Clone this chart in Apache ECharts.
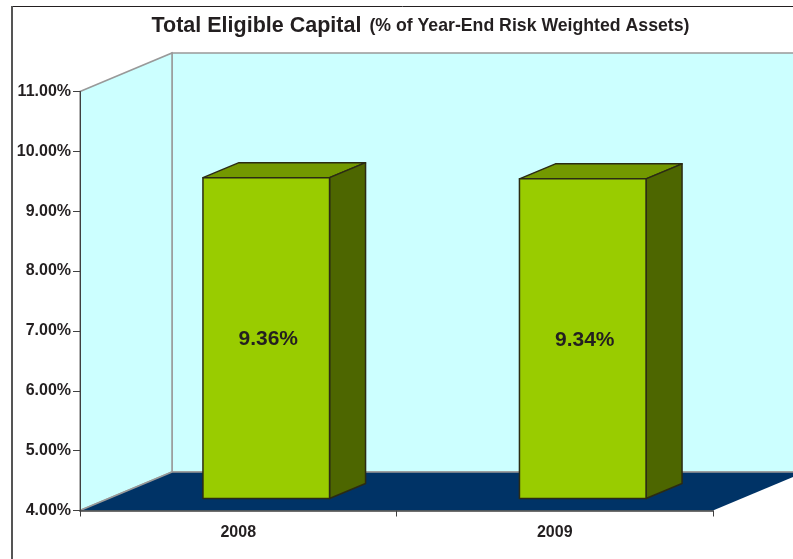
<!DOCTYPE html>
<html>
<head>
<meta charset="utf-8">
<style>
html,body{margin:0;padding:0;background:#fff}
#chart{width:793px;height:559px}
</style>
<script src="https://cdn.jsdelivr.net/npm/echarts@6/dist/echarts.min.js"></script>
</head>
<body>
<div id="chart"></div>
<script>
var years = ['2008', '2009']
var capital = [9.36, 9.34]
var axisMin = 4
var axisMax = 11
var axisStep = 1

var ink = '#231f20'
var font = '"Liberation Sans", Arial, sans-serif'
// 3d look: how far the walls and the bars are pushed back, in pixels
var wallDx = 92, wallDy = -38.5
var barShiftX = 28, barShiftY = -12
var barDx = 36, barDy = -15

function renderWalls(params) {
    var g = params.coordSys
    var l = g.x, r = g.x + g.width, t = g.y, b = g.y + g.height
    var edge = {stroke: '#999999', lineWidth: 1.5}
    return {
        type: 'group',
        children: [
            {type: 'polygon', shape: {points: [[l + wallDx, t + wallDy], [r + wallDx, t + wallDy], [r + wallDx, b + wallDy], [l + wallDx, b + wallDy]]}, style: {fill: '#ccffff', stroke: '#999999', lineWidth: 1.5}},
            {type: 'polygon', shape: {points: [[l, t], [l + wallDx, t + wallDy], [l + wallDx, b + wallDy], [l, b]]}, style: {fill: '#ccffff', stroke: '#999999', lineWidth: 1.5}},
            {type: 'polygon', shape: {points: [[l, b], [l + wallDx, b + wallDy], [r + wallDx, b + wallDy], [r, b]]}, style: {fill: '#003366'}},
            {type: 'line', shape: {x1: l, y1: b, x2: l + wallDx, y2: b + wallDy}, style: edge},
            {type: 'line', shape: {x1: l + wallDx, y1: b + wallDy, x2: r + wallDx, y2: b + wallDy}, style: edge}
        ]
    }
}

function renderBar(params, api) {
    var base = api.coord([api.value(0), axisMin])
    var top = api.coord([api.value(0), api.value(1)])
    var w = api.size([1, 0])[0] * 0.4
    var x0 = base[0] - w / 2 + barShiftX
    var x1 = x0 + w
    var y0 = base[1] + barShiftY
    var y1 = top[1] + barShiftY
    var line = {stroke: '#2b2b14', lineWidth: 1.5, lineJoin: 'round'}
    return {
        type: 'group',
        children: [
            {type: 'polygon', shape: {points: [[x0, y1], [x0 + barDx, y1 + barDy], [x1 + barDx, y1 + barDy], [x1, y1]]}, style: Object.assign({fill: '#739900'}, line)},
            {type: 'polygon', shape: {points: [[x1, y1], [x1 + barDx, y1 + barDy], [x1 + barDx, y0 + barDy], [x1, y0]]}, style: Object.assign({fill: '#4d6600'}, line)},
            {type: 'rect', shape: {x: x0, y: y1, width: w, height: y0 - y1}, style: Object.assign({fill: '#99cc00'}, line)},
            {type: 'text', style: {text: api.value(1).toFixed(2) + '%', x: (x0 + x1) / 2 + 2, y: (y0 + y1) / 2 + 1.5, align: 'center', verticalAlign: 'middle', fill: ink, font: 'bold 21px ' + font}}
        ]
    }
}

var myChart = echarts.init(document.getElementById('chart'), null, {renderer: 'canvas'})
myChart.setOption({
    animation: false,
    backgroundColor: '#ffffff',
    title: {
        text: '{a|Total Eligible Capital} {b|(% of Year-End Risk Weighted Assets)}',
        left: 415.5,
        top: 10,
        textAlign: 'center',
        textStyle: {
            rich: {
                a: {fontFamily: font, fontWeight: 'bold', fontSize: 21.5, color: ink, padding: [0, 3, 0, 0]},
                b: {fontFamily: font, fontWeight: 'bold', fontSize: 17.7, color: ink}
            }
        }
    },
    grid: {left: 80, top: 91.5, width: 633, height: 419},
    xAxis: {
        type: 'category',
        data: years,
        axisLine: {show: true, lineStyle: {color: '#404040', width: 1.5}},
        axisTick: {show: true, length: 6, alignWithLabel: false, lineStyle: {color: '#404040', width: 1}},
        axisLabel: {color: ink, fontFamily: font, fontWeight: 'bold', fontSize: 16, margin: 14}
    },
    yAxis: {
        type: 'value',
        min: axisMin,
        max: axisMax,
        interval: axisStep,
        splitLine: {show: false},
        axisLine: {show: true, lineStyle: {color: '#404040', width: 1}},
        axisTick: {show: true, length: 7, lineStyle: {color: '#404040', width: 1}},
        axisLabel: {color: ink, fontFamily: font, fontWeight: 'bold', fontSize: 16, margin: 9, formatter: function (v) { return v.toFixed(2) + '%' }}
    },
    series: [
        {type: 'custom', z: -1, silent: true, clip: false, data: [[0, axisMin]], renderItem: renderWalls},
        {type: 'custom', z: 2, clip: false, encode: {x: 0, y: 1}, data: years.map(function (y, i) { return [i, capital[i]] }), renderItem: renderBar}
    ],
    graphic: [
        {type: 'line', shape: {x1: 12, y1: 6.5, x2: 793, y2: 6.5}, style: {stroke: '#231f20', lineWidth: 1}},
        {type: 'line', shape: {x1: 12, y1: 6, x2: 12, y2: 559}, style: {stroke: '#555555', lineWidth: 2}}
    ]
})
</script>
</body>
</html>
